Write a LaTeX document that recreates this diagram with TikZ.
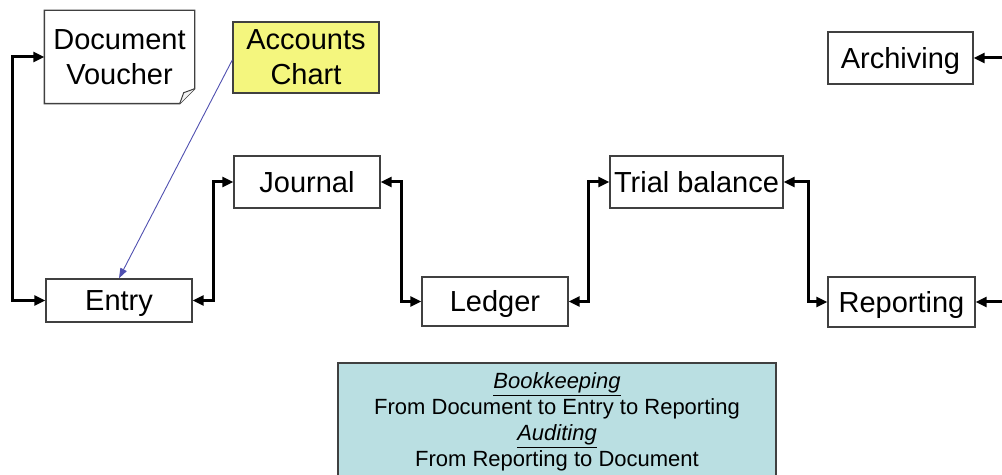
\documentclass[tikz,border=0pt]{standalone}
\usepackage{fontspec}
\setmainfont{Liberation Sans}
\usetikzlibrary{calc,arrows.meta}
\definecolor{chartyellow}{HTML}{F4F67E}
\definecolor{noteblue}{HTML}{BADFE2}
\definecolor{boxgray}{HTML}{404040}
\definecolor{refblue}{HTML}{5050B0}
\tikzset{
	procbox/.style={draw=boxgray, line width=0.7pt, fill=white, inner sep=0pt, align=center, font=\fontsize{14.5}{17.5}\selectfont},
	oneline/.style={text height=10.4pt, text depth=0pt},
	flow/.style={line width=1.5pt, >={Triangle[length=5.5pt,width=5pt]}, <->},
	refline/.style={draw=refblue, line width=0.45pt, -{Triangle[length=5pt,width=3.5pt]}}
}

\begin{document}
\begin{tikzpicture}[x=0.5pt, y=-0.5pt]
		%%%%% START %%%%%
		\useasboundingbox (0, 0) rectangle (1002, 475);
		
		\node[procbox, draw=none, fill=none, minimum width=74.5pt, minimum height=46pt] (voucher) at (119.5, 57) {Document\\Voucher};
		\draw[draw=boxgray, line width=0.7pt] (voucher.north west) -- (voucher.north east) -- ($(voucher.south east)+(0,-15)$) -- ($(voucher.south east)+(-15,0)$) -- (voucher.south west) -- cycle;
		\draw[draw=boxgray, line width=0.5pt, fill=black!5] ($(voucher.south east)+(0,-15)$) -- ($(voucher.south east)+(-11,-11)$) -- ($(voucher.south east)+(-15,0)$);
		
		\node[procbox, fill=chartyellow, minimum width=73pt, minimum height=35.5pt] (chart) at (306, 57.5) {Accounts\\Chart};
		\node[procbox, oneline, minimum width=72.5pt, minimum height=26pt] (archiving) at (900.5, 58) {Archiving};
		
		\node[procbox, oneline, minimum width=73pt, minimum height=26pt] (journal) at (307, 182) {Journal};
		\node[procbox, oneline, minimum width=86.5pt, minimum height=26pt] (trial) at (696.5, 182) {Trial balance};
		
		\node[procbox, oneline, minimum width=73pt, minimum height=21.5pt] (entry) at (119, 300.5) {Entry};
		\node[procbox, oneline, minimum width=73pt, minimum height=24.5pt] (ledger) at (495, 301.5) {Ledger};
		\node[procbox, oneline, minimum width=73.5pt, minimum height=25pt] (reporting) at (901.5, 302) {Reporting};
		
		\node[procbox, fill=noteblue, minimum width=219pt, minimum height=58.5pt, font=\fontsize{11}{13}\selectfont] (note) at (557, 421.5)
			{\underline{\textit{Bookkeeping}}\\From Document to Entry to Reporting\\\underline{\textit{Auditing}}\\From Reporting to Document};
		
		\draw[flow] (voucher.west) -- ++(-32, 0) |- (entry.west);
		\draw[flow] (entry.east) -- ++(21, 0) |- (journal.west);
		\draw[flow] (journal.east) -- ++(21, 0) |- (ledger.west);
		\draw[flow] (ledger.east) -- ++(20, 0) |- (trial.west);
		\draw[flow] (trial.east) -- ++(25, 0) |- (reporting.west);
		
		\coordinate (archin) at (1012, 58);
		\coordinate (repin) at (1012, 302);
		\draw[flow, <-] (archiving.east) -- (archin);
		\draw[flow, <-] (reporting.east) -- (repin);
		
		\draw[refline] ($(chart.west)+(0, 2.5)$) -- (entry.north);
		
		%%%%% END %%%%%
\end{tikzpicture}
\end{document}
